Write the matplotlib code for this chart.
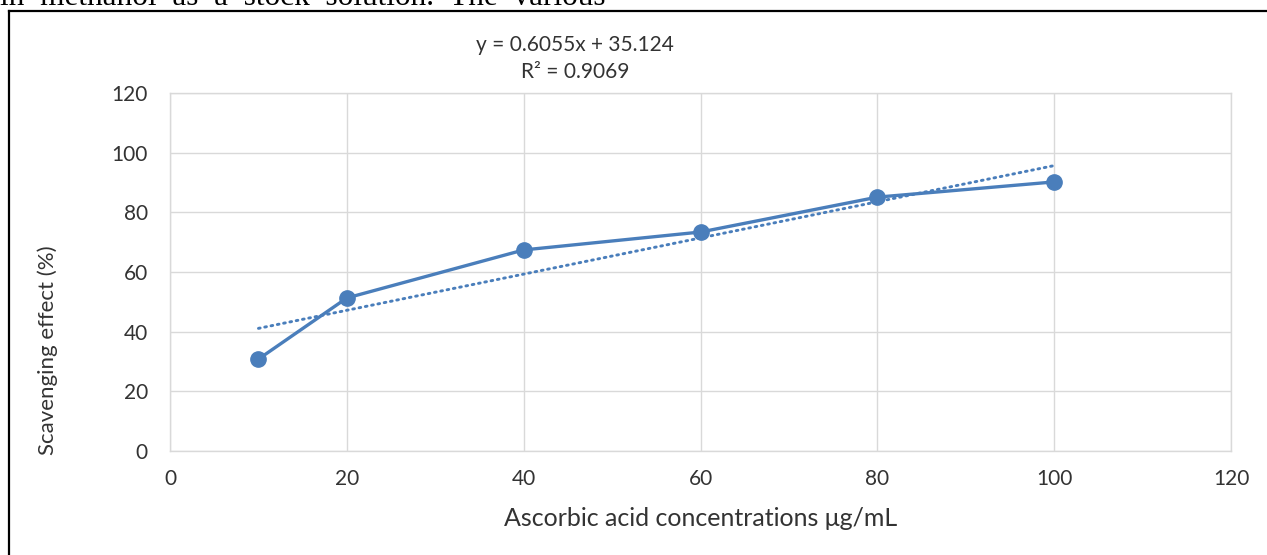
"""Scavenging effect of ascorbic acid vs. concentration, with linear trendline."""

import matplotlib

matplotlib.use("Agg")
import matplotlib.pyplot as plt
import numpy as np
from matplotlib.lines import Line2D

concentration = [10, 20, 40, 60, 80, 100]
scavenging = [30.8, 51.3, 67.4, 73.4, 85.1, 90.2]

x_ticks = [0, 20, 40, 60, 80, 100, 120]
y_ticks = [0, 20, 40, 60, 80, 100, 120]

equation_text = "y = 0.6055x + 35.124"
r2_text = "R² = 0.9069"
header_text = "in  methanol  as  a  stock  solution.  The  various"

BLUE = "#4A7EBB"
GRID = "#D9D9D9"
TEXT = "#333333"

plt.rcParams["font.family"] = ["Lato", "DejaVu Sans"]

fig = plt.figure(figsize=(12.67, 5.55), dpi=100)
ax = fig.add_axes([0.1342, 0.1874, 0.8374, 0.645])

ax.plot(concentration, scavenging, color=BLUE, lw=2.4, marker="o", ms=11,
        solid_capstyle="round", zorder=3)

# linear trendline over the data range
slope, intercept = np.polyfit(concentration, scavenging, 1)
fit_x = np.array([min(concentration), max(concentration)])
ax.plot(fit_x, slope * fit_x + intercept, color=BLUE, lw=2.1,
        linestyle=(0, (0.6, 1.6)), dash_capstyle="round", zorder=2)

ax.set_xlim(0, 120)
ax.set_ylim(0, 120)
ax.set_xticks(x_ticks)
ax.set_yticks(y_ticks)
ax.grid(True, color=GRID, lw=1.0)
ax.set_axisbelow(True)
for side in ["top", "right", "bottom", "left"]:
    ax.spines[side].set_color(GRID)
    ax.spines[side].set_linewidth(1.0)
ax.tick_params(length=0, labelsize=15, colors=TEXT)
ax.tick_params(axis="x", pad=13)
ax.tick_params(axis="y", pad=16)

ax.set_xlabel("Ascorbic acid concentrations μg/mL", fontsize=18, color=TEXT,
              labelpad=13)
# the y label sits below the middle of the axis, as in the original
ax.set_ylabel("Scavenging effect (%)", fontsize=16, color=TEXT, va="center")
ax.yaxis.set_label_coords(-0.115, 0.282)

fig.text(0.454, 1 - 45 / 555, equation_text, ha="center", va="center",
         fontsize=15, color=TEXT)
fig.text(0.454, 1 - 72 / 555, r2_text, ha="center", va="center",
         fontsize=15, color=TEXT)

# frame of the scanned figure box
fig.add_artist(Line2D([9 / 1267, 1], [1 - 11 / 555, 1 - 11 / 555],
                      transform=fig.transFigure, color="black", lw=1.6))
fig.add_artist(Line2D([9 / 1267, 9 / 1267], [0, 1 - 11 / 555],
                      transform=fig.transFigure, color="black", lw=1.6))

# text line of the page cut by the top edge
fig.text(0.0, 1 - 5 / 555, header_text, ha="left", va="baseline",
         fontsize=22.5, family=["Liberation Serif", "DejaVu Serif"],
         color="black")

fig.savefig("out.png", dpi=100)
